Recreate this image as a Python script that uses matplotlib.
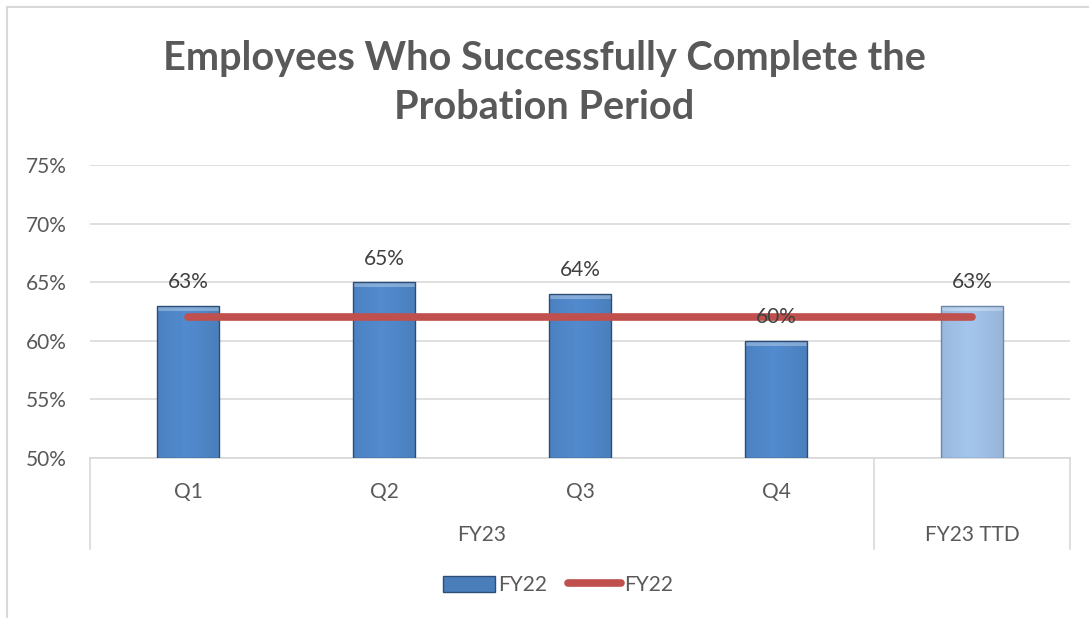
import matplotlib.pyplot as plt
import numpy as np
from matplotlib.lines import Line2D
from matplotlib.patches import Rectangle

plt.rcParams['font.family'] = ['Lato', 'DejaVu Sans']

# data
categories = ['Q1', 'Q2', 'Q3', 'Q4', 'FY23 TTD']
group_labels = ['FY23', 'FY23 TTD']
values = [63, 65, 64, 60, 63]
target = [62, 62, 62, 62, 62]
labels = ['63%', '65%', '64%', '60%', '63%']
yticks = [50, 55, 60, 65, 70, 75]

grey_txt = '#595959'
grid_c = '#D9D9D9'

fig = plt.figure(figsize=(10.89, 6.18), dpi=100)
W, H = 1089, 618
ax = fig.add_axes([90 / W, 1 - 458 / H, 980 / W, (458 - 165) / H])

x = np.arange(len(categories))
bar_cols = ['#4A7EBB'] * 4 + ['#95B3D7']
edge_cols = ['#2C4D75'] * 4 + ['#6A87AA']
bars = ax.bar(x, [v - 50 for v in values], bottom=50, width=0.32,
              color=bar_cols, edgecolor='none', zorder=3)

# gradient shading inside bars
grad = np.linspace(0, 1, 64)
shade = 1 - 0.55 * np.abs(grad - 0.45) ** 1.2
for b, c, ec in zip(bars, bar_cols, edge_cols):
    base = np.array(plt.matplotlib.colors.to_rgb(c))
    img = np.clip(base[None, None, :] * (0.75 + 0.35 * shade[None, :, None]), 0, 1)
    bx, by = b.get_x(), b.get_y()
    bw, bh = b.get_width(), b.get_height()
    im = ax.imshow(img, extent=[bx, bx + bw, by, by + bh], aspect='auto', zorder=3.5,
                   interpolation='bilinear')
    im.set_clip_path(b)
    # light bevel on top
    ax.add_patch(Rectangle((bx, by + bh - 0.45), bw, 0.45,
                           facecolor='white', alpha=0.3, edgecolor='none', zorder=3.6))
    ax.add_patch(Rectangle((bx, by), bw, bh, facecolor='none', edgecolor=ec,
                           lw=1.0, zorder=3.7))

ax.plot(x, target, color='#C0504D', lw=5.5, solid_capstyle='round', zorder=4)

for xi, v, lab in zip(x, values, labels):
    ax.annotate(lab, (xi, v), xytext=(0, 17), textcoords='offset points',
                ha='center', va='center', fontsize=15, color='#404040', zorder=5)

ax.set_xlim(-0.5, len(categories) - 0.5)
ax.set_ylim(50, 75)
ax.set_yticks(yticks)
ax.set_yticklabels([f'{t}%' for t in yticks], fontsize=15, color=grey_txt)
ax.tick_params(axis='y', length=0, pad=17)
ax.set_xticks([])
ax.yaxis.grid(True, color=grid_c, lw=1.2, zorder=0)
for s in ['left', 'right', 'top']:
    ax.spines[s].set_visible(False)
ax.spines['bottom'].set_color(grid_c)
ax.spines['bottom'].set_linewidth(1.2)

# multi-level category axis
tr = ax.get_xaxis_transform()
for xv in [-0.5, 3.5, 4.5]:
    ax.add_line(Line2D([xv, xv], [0, -91 / 293], transform=tr, color=grid_c,
                       lw=1.2, clip_on=False))
for xi, c in zip(x[:4], categories[:4]):
    ax.text(xi, -34 / 293, c, transform=tr, ha='center', va='center',
            fontsize=15, color=grey_txt)
ax.text(1.5, -77 / 293, group_labels[0], transform=tr, ha='center', va='center',
        fontsize=15, color=grey_txt)
ax.text(4, -77 / 293, group_labels[1], transform=tr, ha='center', va='center',
        fontsize=15, color=grey_txt)

fig.text(0.5, 1 - 83 / H, 'Employees Who Successfully Complete the\nProbation Period',
         ha='center', va='center', fontsize=28.5, fontweight='bold', color=grey_txt,
         linespacing=1.4)

# chart border (left and top visible)
fig.add_artist(Line2D([7 / W, 7 / W], [0, 1 - 7 / H], transform=fig.transFigure,
                      color=grid_c, lw=1.5))
fig.add_artist(Line2D([7 / W, 1], [1 - 7 / H, 1 - 7 / H], transform=fig.transFigure,
                      color=grid_c, lw=1.5))

handles = [Rectangle((0, 0), 1, 1, facecolor='#4A7EBB', edgecolor='#2C4D75'),
           Line2D([0], [0], color='#C0504D', lw=5.5, solid_capstyle='round')]
fig.legend(handles, ['FY22', 'FY22'], loc='center', bbox_to_anchor=(558 / W, 1 - 585 / H),
           ncol=2, frameon=False, fontsize=15, handlelength=2.5, handleheight=0.8,
           handletextpad=0.15, columnspacing=1.0, labelcolor=grey_txt)

fig.savefig('out.png', dpi=100)
